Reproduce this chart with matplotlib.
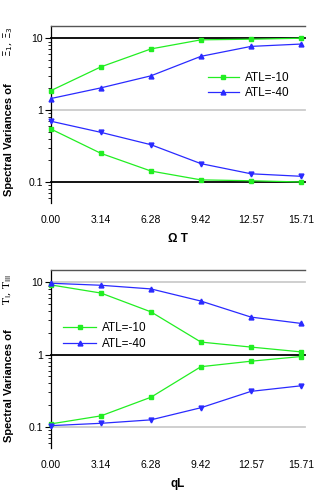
import matplotlib
matplotlib.use("Agg")
import matplotlib.pyplot as plt
from matplotlib.ticker import LogLocator, FixedLocator, NullFormatter

plt.rcParams['font.family'] = ['Liberation Sans', 'DejaVu Sans']

x_vals = [0.00, 3.14, 6.28, 9.42, 12.57, 15.71]
x_labels = ["0.00", "3.14", "6.28", "9.42", "12.57", "15.71"]

# Top panel (Omega T)
top_a10_up = [1.87, 4.0, 7.1, 9.5, 9.7, 10.0]
top_a10_lo = [0.545, 0.25, 0.142, 0.107, 0.104, 0.100]
top_a40_up = [1.45, 2.04, 3.0, 5.6, 7.7, 8.3]
top_a40_lo = [0.70, 0.49, 0.33, 0.18, 0.13, 0.12]

# Bottom panel (qL)
bot_a10_up = [9.2, 7.1, 3.9, 1.49, 1.27, 1.09]
bot_a10_lo = [0.110, 0.142, 0.257, 0.68, 0.81, 0.94]
bot_a40_up = [9.7, 9.1, 8.1, 5.5, 3.3, 2.7]
bot_a40_lo = [0.104, 0.112, 0.125, 0.184, 0.31, 0.37]

GREEN = '#22ee22'
BLUE = '#2a2aff'

fig = plt.figure(figsize=(3.2, 4.92), dpi=100)
W, H = 320, 492

def make_ax(top_px, bot_px):
    l, r = 51, 305
    return fig.add_axes([l / W, 1 - bot_px / H, (r - l) / W, (bot_px - top_px) / H])

def style(ax, grid_colors, xlabel):
    ax.set_yscale('log')
    ax.set_ylim(0.051, 14.8)
    ax.set_xlim(0, 15.96)
    for yv, c in zip([10, 1, 0.1], grid_colors):
        ax.axhline(yv, color=c, lw=1.3, zorder=1)
    ax.spines['right'].set_visible(False)
    ax.spines['bottom'].set_visible(False)
    ax.spines['top'].set_color('#555555')
    ax.spines['top'].set_linewidth(1.0)
    ax.spines['left'].set_linewidth(0.9)
    ax.yaxis.set_major_locator(FixedLocator([0.1, 1, 10]))
    ax.set_yticklabels(["0.1", "1", "10"])
    ax.yaxis.set_minor_locator(LogLocator(base=10, subs=range(2, 10)))
    ax.yaxis.set_minor_formatter(NullFormatter())
    ax.tick_params(axis='y', which='major', length=4, width=0.8, labelsize=7.5, pad=2)
    ax.tick_params(axis='y', which='minor', length=2, width=0.6)
    ax.set_xticks(x_vals)
    ax.set_xticklabels(x_labels)
    ax.tick_params(axis='x', length=0, labelsize=7.5, pad=8.5)
    ax.set_xlabel(xlabel, fontsize=8.5, fontweight='bold', labelpad=6)

# Top
ax1 = make_ax(26, 203)
style(ax1, ['black', '#cccccc', 'black'], 'Ω T')
ax1.plot(x_vals, top_a10_up, color=GREEN, lw=0.9, marker='s', ms=3.5, label='ATL=-10', zorder=3)
ax1.plot(x_vals, top_a40_up, color=BLUE, lw=0.9, marker='^', ms=3.5, label='ATL=-40', zorder=3)
ax1.plot(x_vals, top_a10_lo, color=GREEN, lw=0.9, marker='s', ms=3.5, zorder=3)
ax1.plot(x_vals, top_a40_lo, color=BLUE, lw=0.9, marker='v', ms=3.5, zorder=3)
ax1.legend(loc='upper left', bbox_to_anchor=(0.595, 0.775), frameon=False, fontsize=8.5,
           handlelength=2.6, handletextpad=0.5, labelspacing=0.3, borderpad=0)

# Bottom
ax2 = make_ax(270, 448)
style(ax2, ['#cccccc', 'black', '#cccccc'], 'qL')
ax2.plot(x_vals, bot_a10_up, color=GREEN, lw=0.9, marker='s', ms=3.5, label='ATL=-10', zorder=3)
ax2.plot(x_vals, bot_a40_up, color=BLUE, lw=0.9, marker='^', ms=3.5, label='ATL=-40', zorder=3)
ax2.plot(x_vals, bot_a10_lo, color=GREEN, lw=0.9, marker='s', ms=3.5, zorder=3)
ax2.plot(x_vals, bot_a40_lo, color=BLUE, lw=0.9, marker='v', ms=3.5, zorder=3)
ax2.legend(loc='upper left', bbox_to_anchor=(0.025, 0.74), frameon=False, fontsize=8.5,
           handlelength=2.8, handletextpad=0.5, labelspacing=0.3, borderpad=0)

for a in (ax1, ax2):
    for ln in a.get_lines():
        ln.set_clip_on(False)

# y labels
fig.text(9 / W, 1 - 140 / H, 'Spectral Variances of', rotation=90, ha='center', va='center',
         fontsize=8, fontweight='bold')
fig.text(8 / W, 1 - 42 / H, r'$\Xi_1$, $\Xi_3$', rotation=90, ha='center', va='center',
         fontsize=7.5, family='DejaVu Serif')
fig.text(9 / W, 1 - 386 / H, 'Spectral Variances of', rotation=90, ha='center', va='center',
         fontsize=8, fontweight='bold')
fig.text(8 / W, 1 - 290 / H, r'T$_{\mathrm{I}}$, T$_{\mathrm{III}}$', rotation=90, ha='center', va='center',
         fontsize=7.5, family='DejaVu Serif')

fig.savefig('out.png', dpi=100)
